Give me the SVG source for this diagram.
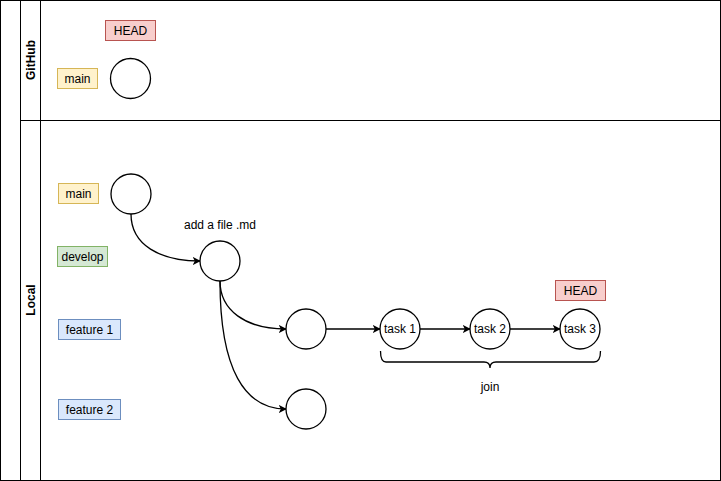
<svg xmlns="http://www.w3.org/2000/svg" width="721" height="481" viewBox="0 0 721 481">
<style>
text{font-family:"Liberation Sans",Arial,sans-serif;font-size:12px;fill:#000}
.c{fill:#fff;stroke:#000;stroke-width:1.3}
.y{fill:#fff2cc;stroke:#d6b656}
.g{fill:#d5e8d4;stroke:#82b366}
.b{fill:#dae8fc;stroke:#6c8ebf}
.r{fill:#f8cecc;stroke:#b85450}
.e{fill:none;stroke:#000;stroke-width:1.3}
.lane{font-weight:bold}
</style>
<defs>
<marker id="a" viewBox="0 0 10 10" refX="9" refY="5" markerWidth="8" markerHeight="8" markerUnits="userSpaceOnUse" orient="auto">
<path d="M0,0 L10,5 L0,10 L2.5,5 Z" fill="#000"/>
</marker>
</defs>
<rect width="721" height="481" fill="#fff"/>
<g id="pool">
<rect x="0.5" y="0.5" width="720" height="480" fill="none" stroke="#000"/>
<line x1="20.5" y1="0.5" x2="20.5" y2="480.5" stroke="#000"/>
<line x1="40.5" y1="0.5" x2="40.5" y2="480.5" stroke="#000"/>
<line x1="20.5" y1="120.5" x2="720.5" y2="120.5" stroke="#000"/>
<text class="lane" transform="translate(35,60) rotate(-90)" text-anchor="middle">GitHub</text>
<text class="lane" transform="translate(35,300) rotate(-90)" text-anchor="middle">Local</text>
</g>
<g id="edges">
<path class="e" d="M131,214 C131,245 160,261 200,261" marker-end="url(#a)"/>
<path class="e" d="M220,281 C220,310 245,329 286,329" marker-end="url(#a)"/>
<path class="e" d="M220,281 C220,370 245,409 286,409" marker-end="url(#a)"/>
<path class="e" d="M326,329 L380,329" marker-end="url(#a)"/>
<path class="e" d="M420,329 L470,329" marker-end="url(#a)"/>
<path class="e" d="M510,329 L560,329" marker-end="url(#a)"/>
</g>
<g id="head-github"><rect class="r" x="105.5" y="20.5" width="50" height="20"/><text x="130.5" y="35" text-anchor="middle">HEAD</text></g>
<g id="main-github"><rect class="y" x="57.5" y="68.5" width="40" height="20"/><text x="77.5" y="82.5" text-anchor="middle">main</text></g>
<g id="commit-github"><circle class="c" cx="130.5" cy="78.5" r="20"/></g>
<g id="main-local"><rect class="y" x="58.5" y="183.5" width="40" height="20"/><text x="78.5" y="197.5" text-anchor="middle">main</text></g>
<g id="commit-main"><circle class="c" cx="131" cy="194" r="20"/></g>
<g id="develop"><rect class="g" x="57.5" y="246.5" width="50" height="20"/><text x="82.5" y="260.5" text-anchor="middle">develop</text></g>
<g id="commit-develop"><circle class="c" cx="220" cy="261" r="20"/><text x="220" y="229" text-anchor="middle">add a file .md</text></g>
<g id="feature1"><rect class="b" x="58.5" y="319.5" width="62" height="20"/><text x="89.5" y="333.5" text-anchor="middle">feature 1</text></g>
<g id="feature2"><rect class="b" x="58.5" y="399.5" width="62" height="20"/><text x="89.5" y="413.5" text-anchor="middle">feature 2</text></g>
<g id="commit-f1"><circle class="c" cx="306" cy="329" r="20"/></g>
<g id="commit-f2"><circle class="c" cx="306" cy="409" r="20"/></g>
<g id="task1"><circle class="c" cx="400" cy="329" r="20"/><text x="400" y="333" text-anchor="middle">task 1</text></g>
<g id="task2"><circle class="c" cx="490" cy="329" r="20"/><text x="490" y="333" text-anchor="middle">task 2</text></g>
<g id="task3"><circle class="c" cx="580" cy="329" r="20"/><text x="580" y="333" text-anchor="middle">task 3</text></g>
<g id="head-local"><rect class="r" x="555.5" y="280.5" width="50" height="20"/><text x="580.5" y="295" text-anchor="middle">HEAD</text></g>
<g id="join">
<path class="e" stroke-width="1" d="M380.5,351 Q380.5,362 386,362 L484,362 Q490,362 490,368 Q490,362 496,362 L594,362 Q600.5,362 600.5,351"/>
<text x="490" y="391" text-anchor="middle">join</text>
</g>
</svg>
